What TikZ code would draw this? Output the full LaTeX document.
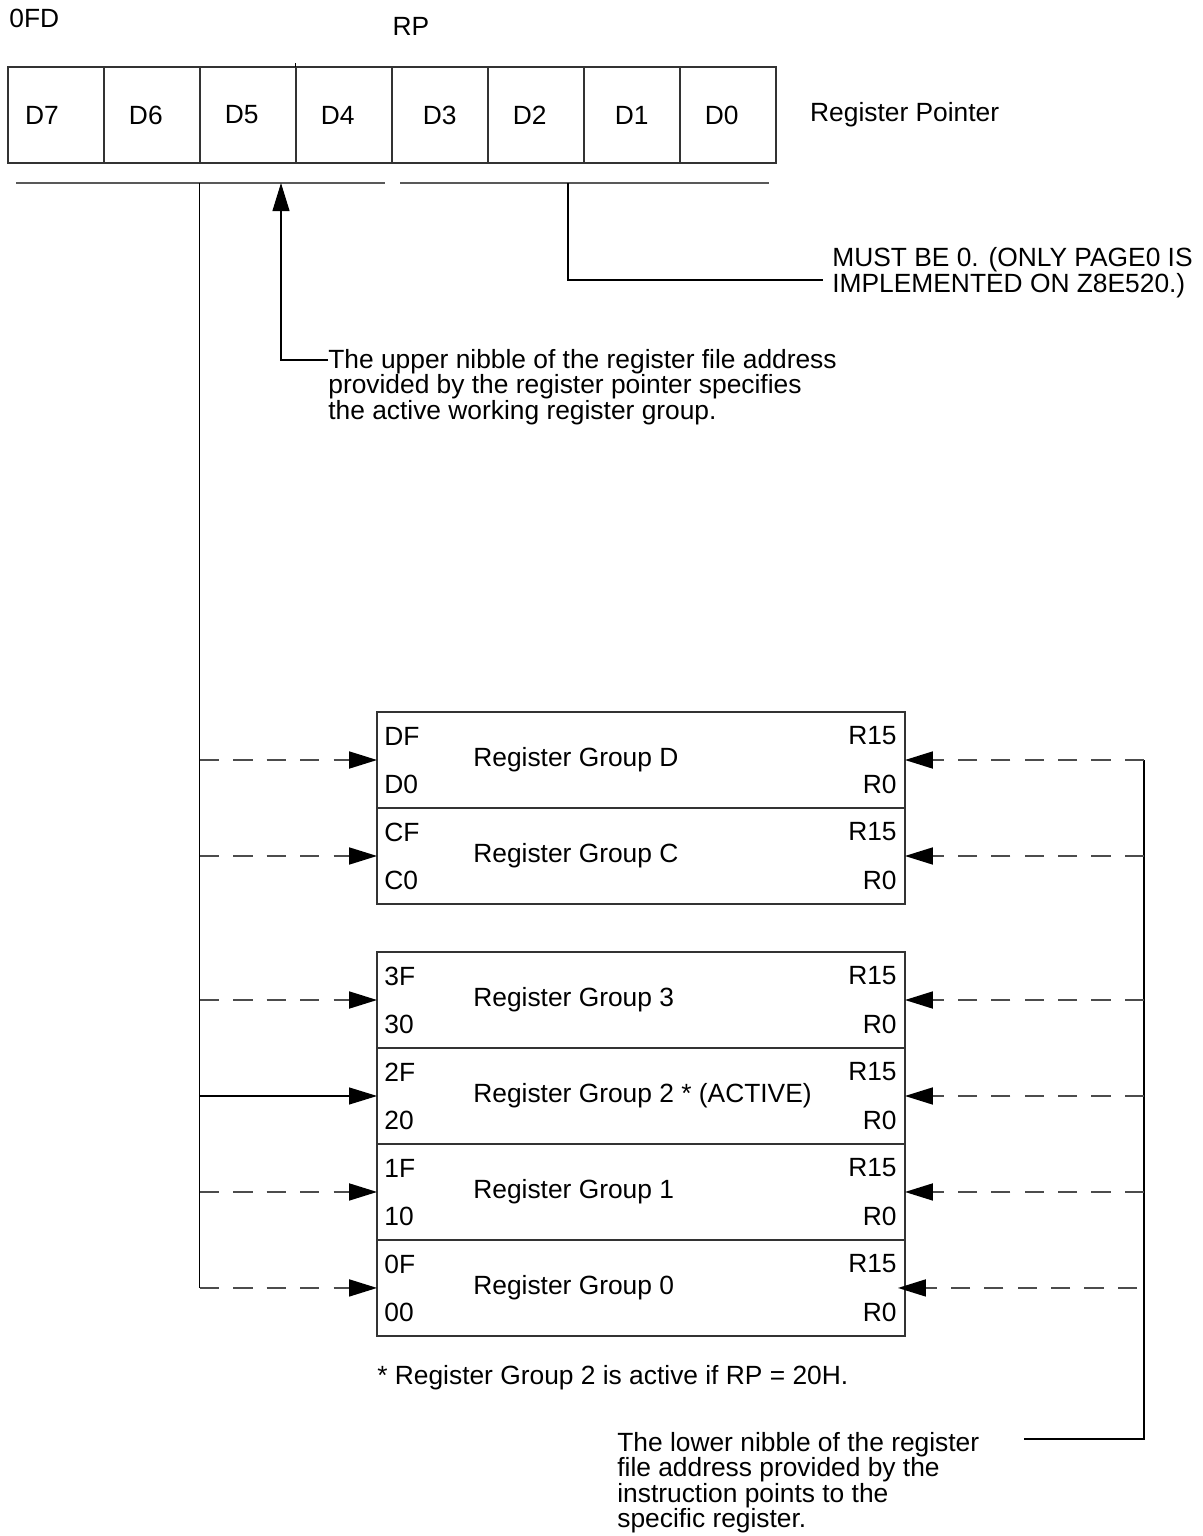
\documentclass[tikz,border=0pt]{standalone}
\usepackage{fontspec}
\setmainfont{Liberation Sans}
\usetikzlibrary{arrows.meta, positioning}

\begin{document}
\begin{tikzpicture}[
    x=0.02cm, y=-0.02cm,
    every node/.style={font=\fontsize{15}{14.4}\selectfont\lineskiplimit-20pt\relax, inner sep=0pt},
    bitcell/.style={
        rectangle,
        draw=black!80,
        line width=1pt,
        outer sep=0pt,
        minimum width=1.92cm,
        minimum height=1.92cm,
        inner xsep=.5cm,
        text width=.92cm,
        align=left
    },
    groupbox/.style={
        rectangle,
        draw=black!80,
        line width=1pt,
        outer sep=0pt,
        minimum width=10.56cm,
        minimum height=1.92cm
    },
    note/.style={align=left, anchor=north west},
    hitag/.style={anchor=west, xshift=.14cm, yshift=-.48cm},
    lotag/.style={anchor=west, xshift=.14cm, yshift=.48cm},
    toptag/.style={anchor=east, xshift=-.16cm, yshift=-.48cm},
    bottag/.style={anchor=east, xshift=-.16cm, yshift=.48cm},
    grouptitle/.style={anchor=west, xshift=1.92cm},
    bracket/.style={draw=black!65, line width=1.2pt},
    wire/.style={draw=black, line width=.6pt},
    dashwire/.style={draw=black!70, line width=1pt, dash pattern=on 11pt off 8pt},
    arrow/.style={-{Triangle[length=5.6mm, width=3.4mm, color=black]}}
]
\useasboundingbox (0,0) rectangle (1203,1536);

% Register pointer byte
\node[anchor=west] (fdaddr) at (9,18) {0FD};
\node (rp) at (411,26) {RP};
\node[bitcell, inner xsep=.34cm, text width=1.24cm] (d7) at (56,115) {D7};
\node[bitcell, right=0pt of d7] (d6) {D6};
\node[bitcell, right=0pt of d6] (d5) {D5};
\node[bitcell, right=0pt of d5] (d4) {D4};
\node[bitcell, right=0pt of d4, inner xsep=.62cm, text width=.68cm] (d3) {D3};
\node[bitcell, right=0pt of d3] (d2) {D2};
\node[bitcell, right=0pt of d2, inner xsep=.62cm, text width=.68cm] (d1) {D1};
\node[bitcell, right=0pt of d1] (d0) {D0};
\node[right=.68cm of d0] (rplabel) {Register Pointer};
\draw[wire] (d5.north east) -- ++(0,-4);

% Nibble brackets
\coordinate (hiL) at (16,183);
\coordinate (hiR) at (385,183);
\coordinate (loL) at (400,183);
\coordinate (loR) at (769,183);
\coordinate (hiTap) at (d5.south west |- hiL);
\coordinate (hiPick) at (281,183);
\coordinate (loPick) at (568,183);
\draw[bracket] (hiL) -- (hiR);
\draw[bracket] (loL) -- (loR);

% Notes on the nibbles
\node[note] (upnote) at (328,349) {The upper nibble of the register file address\\provided by the register pointer specifies\\the active working register group.};
\node[note, anchor=south west] (mustnote) at (832,298) {MUST BE 0. (ONLY PAGE0 IS\\IMPLEMENTED ON Z8E520.)};
\draw[wire, arrow] ([yshift=-.22cm]upnote.north west) -| (hiPick);
\draw[wire] (loPick) |- ([xshift=-.18cm, yshift=.36cm]mustnote.south west);

% Register groups
\node[groupbox] (gD) at (641,760) {};
\node[groupbox, below=0pt of gD] (gC) {};
\node[groupbox] (g3) at (641,1000) {};
\node[groupbox, below=0pt of g3] (g2) {};
\node[groupbox, below=0pt of g2] (g1) {};
\node[groupbox, below=0pt of g1] (g0) {};

\node[hitag] (gDhi) at (gD.north west) {DF};
\node[lotag] (gDlo) at (gD.south west) {D0};
\node[toptag] (gDtop) at (gD.north east) {R15};
\node[bottag] (gDbot) at (gD.south east) {R0};
\node[grouptitle] (gDname) at (gD.west) {Register Group D};

\node[hitag] (gChi) at (gC.north west) {CF};
\node[lotag] (gClo) at (gC.south west) {C0};
\node[toptag] (gCtop) at (gC.north east) {R15};
\node[bottag] (gCbot) at (gC.south east) {R0};
\node[grouptitle] (gCname) at (gC.west) {Register Group C};

\node[hitag] (g3hi) at (g3.north west) {3F};
\node[lotag] (g3lo) at (g3.south west) {30};
\node[toptag] (g3top) at (g3.north east) {R15};
\node[bottag] (g3bot) at (g3.south east) {R0};
\node[grouptitle] (g3name) at (g3.west) {Register Group 3};

\node[hitag] (g2hi) at (g2.north west) {2F};
\node[lotag] (g2lo) at (g2.south west) {20};
\node[toptag] (g2top) at (g2.north east) {R15};
\node[bottag] (g2bot) at (g2.south east) {R0};
\node[grouptitle] (g2name) at (g2.west) {Register Group 2 * (ACTIVE)};

\node[hitag] (g1hi) at (g1.north west) {1F};
\node[lotag] (g1lo) at (g1.south west) {10};
\node[toptag] (g1top) at (g1.north east) {R15};
\node[bottag] (g1bot) at (g1.south east) {R0};
\node[grouptitle] (g1name) at (g1.west) {Register Group 1};

\node[hitag] (g0hi) at (g0.north west) {0F};
\node[lotag] (g0lo) at (g0.south west) {00};
\node[toptag] (g0top) at (g0.north east) {R15};
\node[bottag] (g0bot) at (g0.south east) {R0};
\node[grouptitle] (g0name) at (g0.west) {Register Group 0};

% Upper nibble selects the group
\draw[wire] (hiTap) -- (hiTap |- g0.west);
\draw[dashwire, arrow] (hiTap |- gD.west) -- (gD.west);
\draw[dashwire, arrow] (hiTap |- gC.west) -- (gC.west);
\draw[dashwire, arrow] (hiTap |- g3.west) -- (g3.west);
\draw[wire, arrow] (hiTap |- g2.west) -- (g2.west);
\draw[dashwire, arrow] (hiTap |- g1.west) -- (g1.west);
\draw[dashwire, arrow] (hiTap |- g0.west) -- (g0.west);

% Lower nibble selects the register
\coordinate (loTurn) at (1144,1439);
\coordinate (loEnd) at (1024,1439);
\draw[wire] (loTurn |- gD.east) -- (loTurn) -- (loEnd);
\draw[dashwire, arrow] (loTurn |- gD.east) -- (gD.east);
\draw[dashwire, arrow] (loTurn |- gC.east) -- (gC.east);
\draw[dashwire, arrow] (loTurn |- g3.east) -- (g3.east);
\draw[dashwire, arrow] (loTurn |- g2.east) -- (g2.east);
\draw[dashwire, arrow] (loTurn |- g1.east) -- (g1.east);
\draw[dashwire, arrow, shorten <=.14cm, shorten >=-.14cm] (loTurn |- g0.east) -- (g0.east);

% Footnote and lower nibble note
\node[anchor=west] (footnote) at (377,1378) {* Register Group 2 is active if RP = 20H.};
\node[note] (lownote) at (617,1432) {The lower nibble of the register\\file address provided by the\\instruction points to the\\specific register.};

\end{tikzpicture}
\end{document}
